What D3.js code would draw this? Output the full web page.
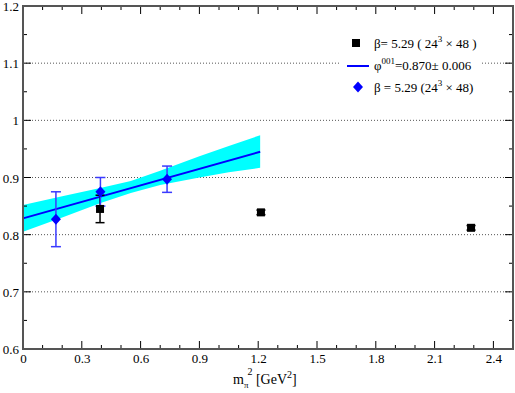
<!DOCTYPE html>
<html>
<head>
<meta charset="UTF-8">
<script src="https://d3js.org/d3.v7.min.js"></script>
<style>
  body { margin: 0; background: #fff; }
  svg text { font-family: "Liberation Serif", "DejaVu Serif", serif !important; fill: #000; }
</style>
</head>
<body>
<svg id="chart" width="515" height="393"></svg>
<script>
// data
const blackX = [0.393, 1.214, 2.286];
const blackY = [0.845, 0.839, 0.812];
const blackErr = [0.024, 0.004, 0.004];

const blueX = [0.168, 0.395, 0.735];
const blueY = [0.827, 0.875, 0.897];
const blueErr = [0.048, 0.025, 0.023];

const fitX = [0, 1.21];
const fitY = [0.8285, 0.945];

const bandX = [0, 0.2, 0.4, 0.55, 0.7, 0.9, 1.05, 1.21];
const bandHigh = [0.852, 0.867, 0.882, 0.894, 0.912, 0.937, 0.955, 0.974];
const bandLow = [0.805, 0.830, 0.856, 0.873, 0.887, 0.900, 0.909, 0.917];

const xTicks = [0, 0.3, 0.6, 0.9, 1.2, 1.5, 1.8, 2.1, 2.4];
const yTicks = [0.6, 0.7, 0.8, 0.9, 1, 1.1, 1.2];
const gridY = [0.7, 0.8, 0.9, 1, 1.1];

const svg = d3.select("#chart");
const margin = { top: 6, right: 2, bottom: 44, left: 23 };
const width = 515, height = 393;

const x = d3.scaleLinear().domain([0, 2.5]).range([margin.left, width - margin.right]);
const y = d3.scaleLinear().domain([0.6, 1.2]).range([height - margin.bottom, margin.top]);

// grid
svg.append("g").selectAll("line")
  .data(gridY).enter().append("line")
  .attr("x1", x(0)).attr("x2", x(2.5))
  .attr("y1", d => y(d)).attr("y2", d => y(d))
  .attr("stroke", "#555").attr("stroke-width", 1)
  .attr("stroke-dasharray", "1,2");

// band
const bandData = bandX.map((v, i) => ({ x: v, lo: bandLow[i], hi: bandHigh[i] }));
svg.append("path")
  .datum(bandData)
  .attr("fill", "#00ffff")
  .attr("d", d3.area().x(d => x(d.x)).y0(d => y(d.lo)).y1(d => y(d.hi)));

// fit line
svg.append("line")
  .attr("x1", x(fitX[0])).attr("y1", y(fitY[0]))
  .attr("x2", x(fitX[1])).attr("y2", y(fitY[1]))
  .attr("stroke", "#0000ff").attr("stroke-width", 2);

// error bars
function errorBars(xs, ys, es, color, cap) {
  const g = svg.append("g").attr("stroke", color).attr("stroke-width", 1.5);
  xs.forEach((xv, i) => {
    const px = x(xv), top = y(ys[i] + es[i]), bot = y(ys[i] - es[i]);
    g.append("line").attr("x1", px).attr("x2", px).attr("y1", top).attr("y2", bot);
    g.append("line").attr("x1", px - cap).attr("x2", px + cap).attr("y1", top).attr("y2", top);
    g.append("line").attr("x1", px - cap).attr("x2", px + cap).attr("y1", bot).attr("y2", bot);
  });
}
errorBars(blackX, blackY, blackErr, "#000", 4.5);
errorBars(blueX, blueY, blueErr, "#3a3aff", 5);

// markers
svg.append("g").selectAll("rect")
  .data(blackX).enter().append("rect")
  .attr("x", d => x(d) - 4).attr("y", (d, i) => y(blackY[i]) - 4)
  .attr("width", 8).attr("height", 8).attr("fill", "#000");

svg.append("g").selectAll("path")
  .data(blueX).enter().append("path")
  .attr("transform", (d, i) => `translate(${x(d)},${y(blueY[i])})`)
  .attr("d", "M0,-5.5L5,0L0,5.5L-5,0Z")
  .attr("fill", "#0000ff");

// legend
const lg = svg.append("g");
lg.append("rect").attr("x", 340).attr("y", 30).attr("width", 142).attr("height", 70).attr("fill", "#fff");
lg.append("rect").attr("x", 352).attr("y", 39).attr("width", 8).attr("height", 8).attr("fill", "#000");
lg.append("line").attr("x1", 347).attr("x2", 369).attr("y1", 66).attr("y2", 66)
  .attr("stroke", "#0000ff").attr("stroke-width", 2);
lg.append("path").attr("transform", "translate(358,87)")
  .attr("d", "M0,-5.5L5,0L0,5.5L-5,0Z").attr("fill", "#0000ff");

const t1 = lg.append("text").attr("x", 374).attr("y", 48).style("font-size", "13px");
t1.append("tspan").text("β= 5.29 ( 24");
t1.append("tspan").attr("dy", -6).style("font-size", "9px").text("3");
t1.append("tspan").attr("dy", 6).text(" × 48 )");

const t2 = lg.append("text").attr("x", 374).attr("y", 70).style("font-size", "13px");
t2.append("tspan").text("φ");
t2.append("tspan").attr("dy", -6).style("font-size", "9px").text("001");
t2.append("tspan").attr("dy", 6).text("=0.870± 0.006");

const t3 = lg.append("text").attr("x", 374).attr("y", 92).style("font-size", "13px");
t3.append("tspan").text("β = 5.29 (24");
t3.append("tspan").attr("dy", -6).style("font-size", "9px").text("3");
t3.append("tspan").attr("dy", 6).text(" × 48)");

// axes frame
const frameColor = "#555";
const xBottom = d3.axisBottom(x).tickValues(xTicks).tickFormat(d3.format("")).tickSize(0).tickPadding(5);
const yLeft = d3.axisLeft(y).tickValues(yTicks).tickFormat(d3.format("")).tickSize(0).tickPadding(4);

const gx = svg.append("g").attr("transform", `translate(0,${y(0.6)})`).call(xBottom);
const gy = svg.append("g").attr("transform", `translate(${x(0)},0)`).call(yLeft);
[gx, gy].forEach(g => {
  g.attr("font-family", null);
  g.select(".domain").remove();
  g.selectAll("text").style("font-size", "13px").attr("fill", "#000");
});
gy.selectAll("text").attr("dy", "0.35em");

// ticks pointing inward on all four sides
const ticks = svg.append("g").attr("stroke", "#000").attr("stroke-width", 1);
const xMinor = d3.range(0, 25).map(i => i / 10);
const yMinor = d3.range(0, 13).map(i => 0.6 + i * 0.05);
xMinor.forEach((v, i) => {
  const len = i % 3 === 0 ? 8 : 4;
  ticks.append("line").attr("x1", x(v)).attr("x2", x(v)).attr("y1", y(0.6)).attr("y2", y(0.6) - len);
  ticks.append("line").attr("x1", x(v)).attr("x2", x(v)).attr("y1", y(1.2)).attr("y2", y(1.2) + len);
});
yMinor.forEach((v, i) => {
  const len = i % 2 === 0 ? 8 : 4;
  ticks.append("line").attr("x1", x(0)).attr("x2", x(0) + len).attr("y1", y(v)).attr("y2", y(v));
  ticks.append("line").attr("x1", x(2.5)).attr("x2", x(2.5) - len).attr("y1", y(v)).attr("y2", y(v));
});

svg.append("rect")
  .attr("x", x(0)).attr("y", y(1.2))
  .attr("width", x(2.5) - x(0)).attr("height", y(0.6) - y(1.2))
  .attr("fill", "none").attr("stroke", frameColor).attr("stroke-width", 2);

// x label
const xl = svg.append("text").attr("x", 233).attr("y", 384).style("font-size", "14px");
xl.append("tspan").text("m");
xl.append("tspan").attr("dy", 4).style("font-size", "9px").text("π");
xl.append("tspan").attr("dy", -13).attr("dx", -1).style("font-size", "10px").text("2");
xl.append("tspan").attr("dy", 9).text(" [GeV");
xl.append("tspan").attr("dy", -6).style("font-size", "10px").text("2");
xl.append("tspan").attr("dy", 6).text("]");
</script>
</body>
</html>
